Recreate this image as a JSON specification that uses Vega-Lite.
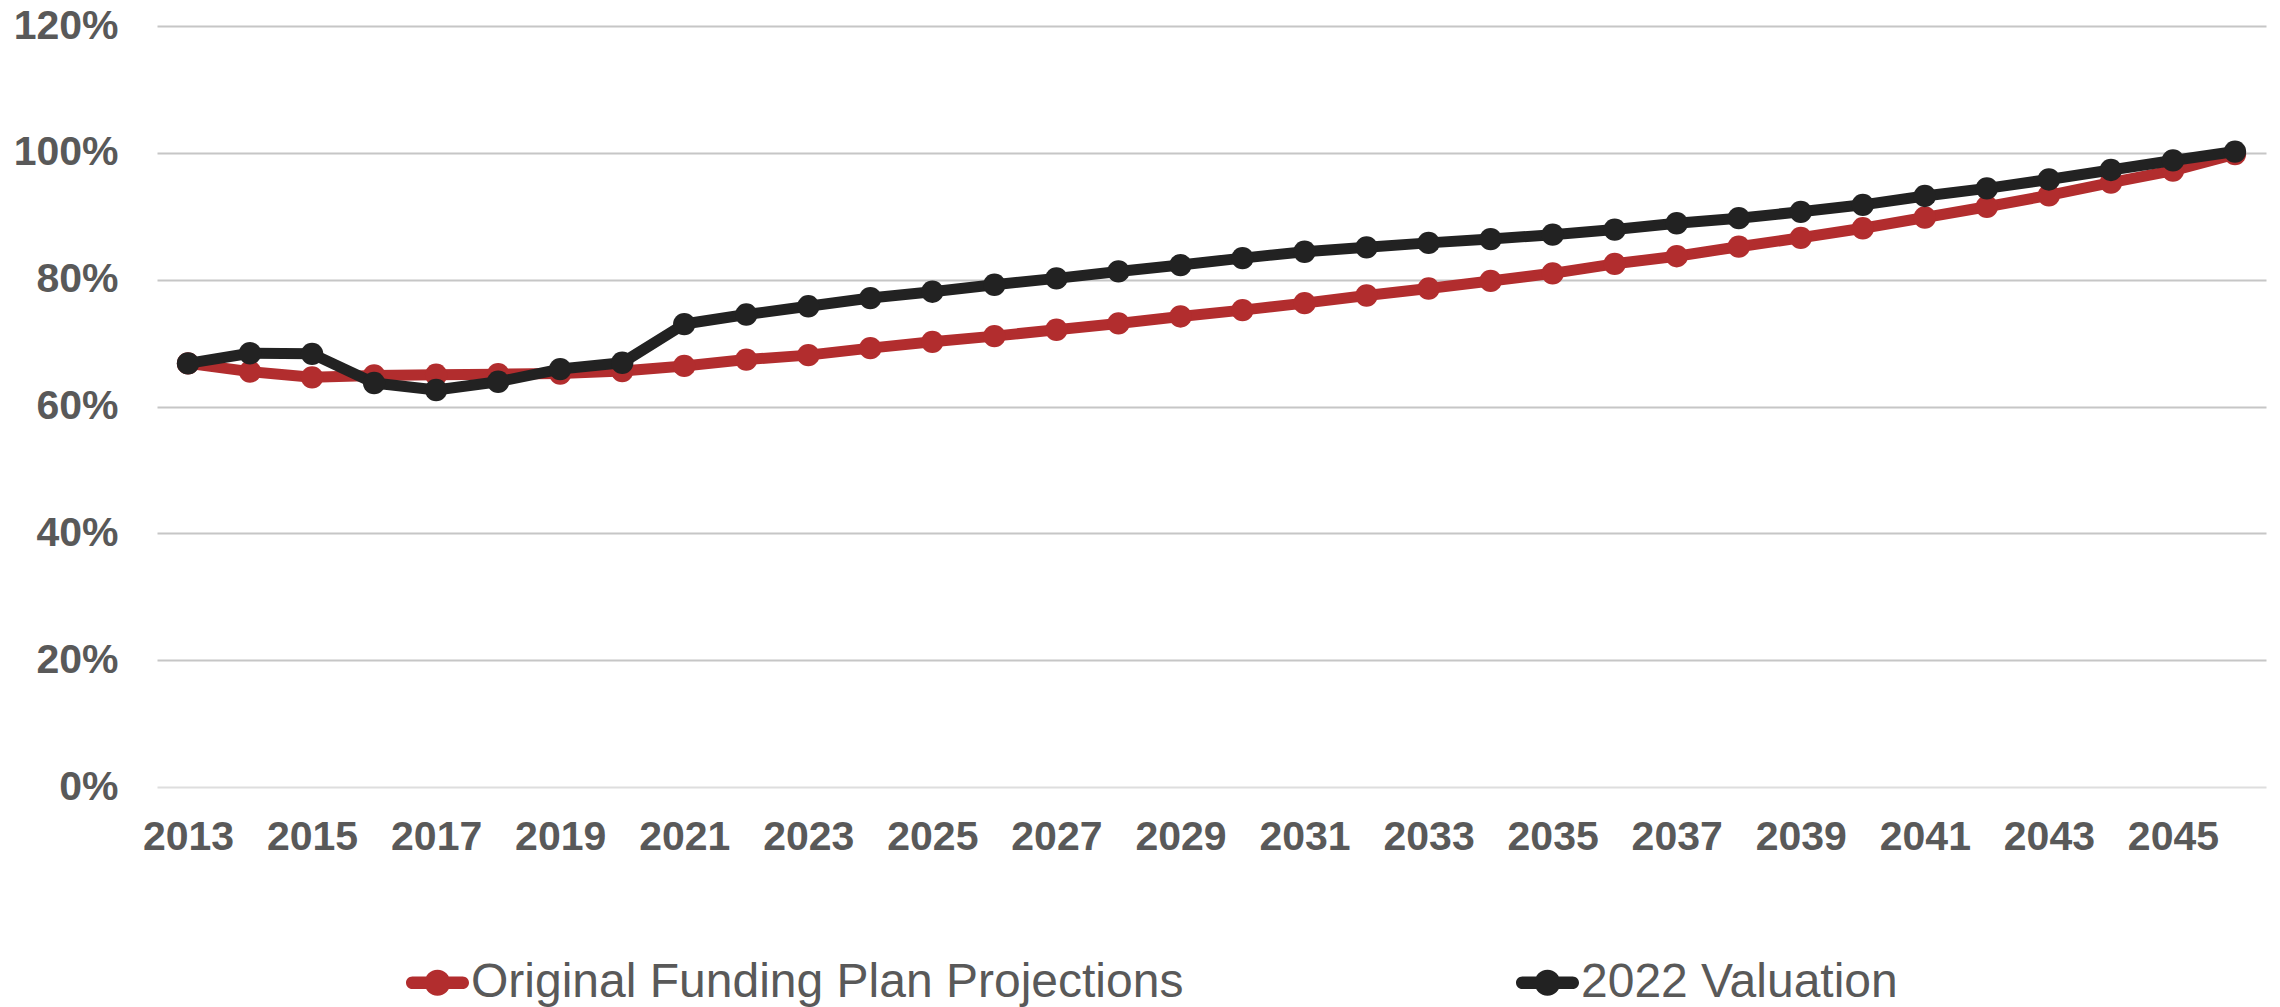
{
  "$schema": "https://vega.github.io/schema/vega-lite/v6.json",
  "autosize": {"type": "none"},
  "width": 2109,
  "height": 761,
  "padding": {"left": 157, "top": 26, "right": 14, "bottom": 220},
  "background": "white",
  "config": {
    "font": "Liberation Sans",
    "view": {"stroke": null}
  },
  "data": {
    "values": [
      {"year": 2013, "Original Funding Plan Projections": 0.668, "2022 Valuation": 0.668},
      {"year": 2014, "Original Funding Plan Projections": 0.655, "2022 Valuation": 0.684},
      {"year": 2015, "Original Funding Plan Projections": 0.646, "2022 Valuation": 0.683},
      {"year": 2016, "Original Funding Plan Projections": 0.649, "2022 Valuation": 0.637},
      {"year": 2017, "Original Funding Plan Projections": 0.650, "2022 Valuation": 0.626},
      {"year": 2018, "Original Funding Plan Projections": 0.651, "2022 Valuation": 0.639},
      {"year": 2019, "Original Funding Plan Projections": 0.652, "2022 Valuation": 0.659},
      {"year": 2020, "Original Funding Plan Projections": 0.656, "2022 Valuation": 0.669},
      {"year": 2021, "Original Funding Plan Projections": 0.664, "2022 Valuation": 0.730},
      {"year": 2022, "Original Funding Plan Projections": 0.674, "2022 Valuation": 0.745},
      {"year": 2023, "Original Funding Plan Projections": 0.681, "2022 Valuation": 0.758},
      {"year": 2024, "Original Funding Plan Projections": 0.692, "2022 Valuation": 0.771},
      {"year": 2025, "Original Funding Plan Projections": 0.702, "2022 Valuation": 0.781},
      {"year": 2026, "Original Funding Plan Projections": 0.711, "2022 Valuation": 0.792},
      {"year": 2027, "Original Funding Plan Projections": 0.721, "2022 Valuation": 0.802},
      {"year": 2028, "Original Funding Plan Projections": 0.731, "2022 Valuation": 0.813},
      {"year": 2029, "Original Funding Plan Projections": 0.742, "2022 Valuation": 0.823},
      {"year": 2030, "Original Funding Plan Projections": 0.752, "2022 Valuation": 0.834},
      {"year": 2031, "Original Funding Plan Projections": 0.763, "2022 Valuation": 0.844},
      {"year": 2032, "Original Funding Plan Projections": 0.775, "2022 Valuation": 0.851},
      {"year": 2033, "Original Funding Plan Projections": 0.786, "2022 Valuation": 0.858},
      {"year": 2034, "Original Funding Plan Projections": 0.798, "2022 Valuation": 0.864},
      {"year": 2035, "Original Funding Plan Projections": 0.810, "2022 Valuation": 0.871},
      {"year": 2036, "Original Funding Plan Projections": 0.825, "2022 Valuation": 0.879},
      {"year": 2037, "Original Funding Plan Projections": 0.837, "2022 Valuation": 0.889},
      {"year": 2038, "Original Funding Plan Projections": 0.852, "2022 Valuation": 0.897},
      {"year": 2039, "Original Funding Plan Projections": 0.866, "2022 Valuation": 0.907},
      {"year": 2040, "Original Funding Plan Projections": 0.881, "2022 Valuation": 0.918},
      {"year": 2041, "Original Funding Plan Projections": 0.898, "2022 Valuation": 0.932},
      {"year": 2042, "Original Funding Plan Projections": 0.915, "2022 Valuation": 0.944},
      {"year": 2043, "Original Funding Plan Projections": 0.933, "2022 Valuation": 0.958},
      {"year": 2044, "Original Funding Plan Projections": 0.953, "2022 Valuation": 0.973},
      {"year": 2045, "Original Funding Plan Projections": 0.972, "2022 Valuation": 0.988},
      {"year": 2046, "Original Funding Plan Projections": 0.998, "2022 Valuation": 1.002}
    ]
  },
  "transform": [
    {"fold": ["Original Funding Plan Projections", "2022 Valuation"], "as": ["series", "v"]}
  ],
  "encoding": {
    "x": {
      "field": "year",
      "type": "quantitative",
      "scale": {"domain": [2012.5, 2046.5], "nice": false, "zero": false},
      "axis": {
        "title": null,
        "values": [2013, 2015, 2017, 2019, 2021, 2023, 2025, 2027, 2029, 2031, 2033, 2035, 2037, 2039, 2041, 2043, 2045],
        "format": "d",
        "grid": false,
        "domain": false,
        "ticks": false,
        "labelPadding": 30,
        "labelFontSize": 41,
        "labelFontWeight": "bold",
        "labelColor": "#595959",
        "labelFlush": false,
        "labelOverlap": false
      }
    },
    "y": {
      "field": "v",
      "type": "quantitative",
      "scale": {"domain": [0, 1.2], "nice": false},
      "axis": {
        "title": null,
        "values": [0, 0.2, 0.4, 0.6, 0.8, 1.0, 1.2],
        "format": ".0%",
        "grid": true,
        "gridColor": {"condition": {"test": "datum.value === 0", "value": "#dedede"}, "value": "#c6c6c6"},
        "gridWidth": 2,
        "domain": false,
        "ticks": false,
        "labelPadding": 39,
        "labelFontSize": 41,
        "labelFontWeight": "bold",
        "labelColor": "#595959",
        "labelFlush": false,
        "labelOverlap": false
      }
    },
    "color": {
      "field": "series",
      "type": "nominal",
      "scale": {"domain": ["Original Funding Plan Projections", "2022 Valuation"], "range": ["#B22D2E", "#222222"]},
      "legend": {
        "title": null,
        "orient": "none",
        "legendX": 249,
        "legendY": 925,
        "direction": "horizontal",
        "columns": 2,
        "columnPadding": 331,
        "padding": 0,
        "symbolType": "M-0.8,-0.2 L0.8,-0.2 A0.2,0.2 0 0 1 0.8,0.2 L-0.8,0.2 A0.2,0.2 0 0 1 -0.8,-0.2 Z M0.41,0 A0.41,0.41 0 1 1 -0.41,0 A0.41,0.41 0 1 1 0.41,0 Z",
        "symbolSize": 3969,
        "symbolStrokeWidth": 0,
        "symbolOpacity": 1,
        "labelFontSize": 48,
        "labelColor": "#595959",
        "labelLimit": 1200,
        "labelOffset": 2,
        "encode": {"symbols": {"update": {"fill": {"scale": "color", "field": "value"}, "opacity": {"value": 1}, "strokeWidth": {"value": 0}}}}
      }
    }
  },
  "layer": [
    {
      "transform": [{"filter": "datum.series === 'Original Funding Plan Projections'"}],
      "mark": {"type": "line", "strokeWidth": 11, "strokeJoin": "round"}
    },
    {
      "transform": [{"filter": "datum.series === 'Original Funding Plan Projections'"}],
      "mark": {"type": "point", "filled": true, "size": 500, "opacity": 1}
    },
    {
      "transform": [{"filter": "datum.series === '2022 Valuation'"}],
      "mark": {"type": "line", "strokeWidth": 11, "strokeJoin": "round"}
    },
    {
      "transform": [{"filter": "datum.series === '2022 Valuation'"}],
      "mark": {"type": "point", "filled": true, "size": 500, "opacity": 1}
    }
  ]
}
